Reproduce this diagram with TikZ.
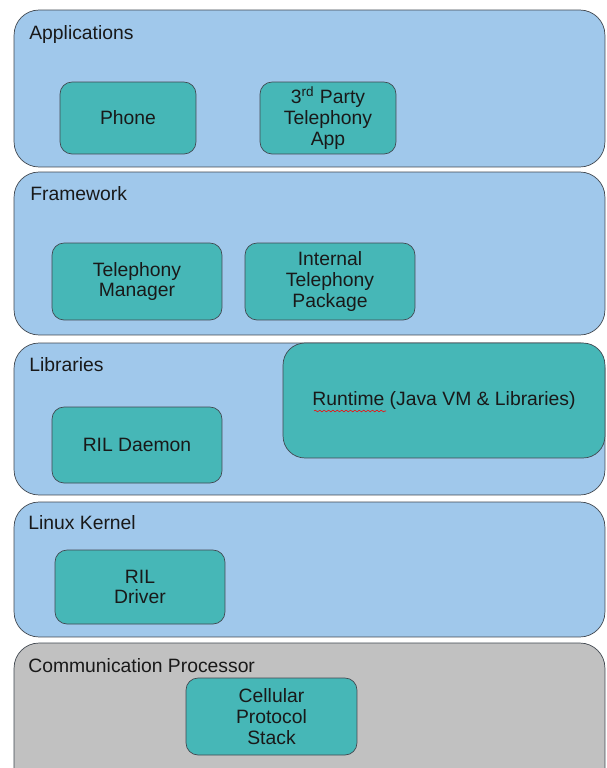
\documentclass[tikz,border=0pt]{standalone}
\usepackage{fontspec}
\setmainfont{Liberation Sans}
\definecolor{layerblue}{RGB}{160,200,235}
\definecolor{layergray}{RGB}{193,193,193}
\definecolor{blockteal}{RGB}{70,183,183}
\definecolor{edge}{RGB}{65,72,80}
\definecolor{ink}{RGB}{25,25,25}
\usetikzlibrary{decorations.pathmorphing}
\tikzset{
  layer/.style={draw=edge,fill=layerblue,rounded corners=0.5cm,inner sep=0pt},
  block/.style={draw=edge,fill=blockteal,rounded corners=0.24cm,align=center,
    text=ink,font=\fontsize{11}{11.8}\selectfont,inner sep=0pt},
  title/.style={anchor=base west,inner sep=0pt,text=ink,font=\fontsize{11}{11.8}\selectfont}
}

\begin{document}
\begin{tikzpicture}[x=0.02cm,y=-0.02cm]
  % pixel grid of the reference: 607 x 768
  \useasboundingbox (0,0) rectangle (607,768);
  \clip (0,0) rectangle (607,768);
  \fill[white] (0,0) rectangle (607,768);

  % layers
  \node[layer,minimum width=11.82cm,minimum height=3.14cm] (applications) at (309.5,88.5) {};
  \node[layer,minimum width=11.82cm,minimum height=3.26cm] (framework) at (309.5,253.5) {};
  \node[layer,minimum width=11.82cm,minimum height=3.04cm] (libraries) at (309.5,419) {};
  \node[layer,minimum width=11.82cm,minimum height=2.70cm] (kernel) at (309.5,569.5) {};
  \node[layer,fill=layergray,minimum width=11.82cm,minimum height=3.0cm] (modem) at (309.5,718) {};

  \node[title] (applicationslabel) at (29,39) {Applications};
  \node[title] (frameworklabel) at (30,200) {Framework};
  \node[title] (librarieslabel) at (29,371) {Libraries};
  \node[title] (kernellabel) at (28,529) {Linux Kernel};
  \node[title] (modemlabel) at (28,672) {Communication Processor};

  % blocks
  \node[block,minimum width=2.72cm,minimum height=1.44cm] (phone) at (128,118) {Phone};
  \node[block,minimum width=2.72cm,minimum height=1.44cm] (thirdparty) at (328,118)
    {3\textsuperscript{rd} Party\\Telephony\\App};
  \node[block,minimum width=3.4cm,minimum height=1.54cm] (telmanager) at (137,281.5)
    {Telephony\\Manager};
  \node[block,minimum width=3.4cm,minimum height=1.54cm] (internaltel) at (330,281.5)
    {Internal\\Telephony\\Package};
  \node[block,rounded corners=0.44cm,minimum width=6.44cm,minimum height=2.3cm] (runtime) at (444,400.5)
    {Runtime (Java VM \& Libraries)};
  \node[block,minimum width=3.4cm,minimum height=1.52cm] (rildaemon) at (137,445) {RIL Daemon};
  \node[block,minimum width=3.4cm,minimum height=1.48cm] (rildriver) at (140,587) {RIL\\Driver};
  \node[block,minimum width=3.42cm,minimum height=1.54cm] (protocolstack) at (271.5,716.5)
    {Cellular\\Protocol\\Stack};

  % spell-check squiggle under Runtime
  \draw[red,line width=0.3pt,decorate,decoration={snake,amplitude=0.5pt,segment length=2.5pt}]
    (314,411) -- (386,411);
\end{tikzpicture}
\end{document}
